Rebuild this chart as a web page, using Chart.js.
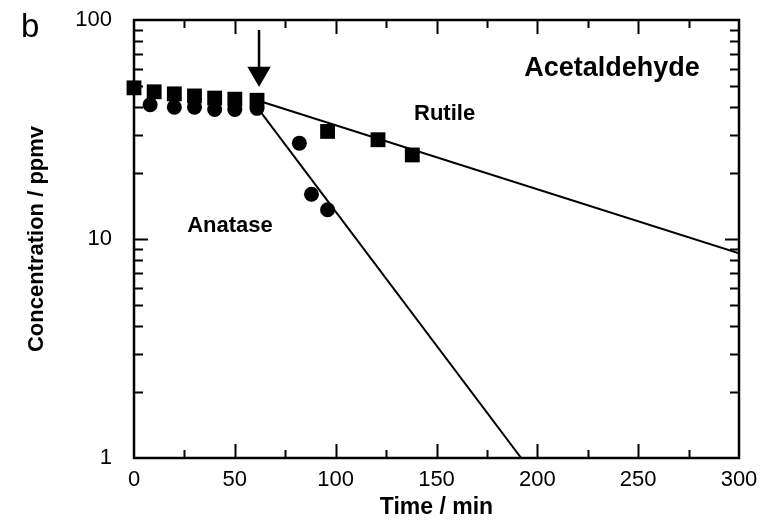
<!DOCTYPE html>
<html>
<head>
<meta charset="utf-8">
<script src="https://cdn.jsdelivr.net/npm/chart.js@4/dist/chart.umd.min.js"></script>
<style>
  html, body { margin: 0; padding: 0; background: #fff; }
  #wrap { width: 774px; height: 521px; }
</style>
</head>
<body>
<div id="wrap"><canvas id="chart" width="774" height="521"></canvas></div>
<script>
// measured points (time in min, concentration in ppmv)
const timeRutile = [0, 10, 20, 30, 40, 50, 61, 96, 121, 138];
const concRutile = [49, 47, 46, 45, 44, 43.5, 43, 31, 28.4, 24.2];

const timeAnatase = [8, 20, 30, 40, 50, 61, 82, 88, 96];
const concAnatase = [41, 40, 40, 39, 39, 39.5, 27.4, 16, 13.6];

// fitted first-order decay lines
const fitRutileX = [61, 300];
const fitRutileY = [43, 8.6];
const fitAnataseX = [61, 192];
const fitAnataseY = [40, 1];

// arrow marking light on
const arrowX = [62, 62];
const arrowY = [90, 57];

// axes
const xTicks = [0, 50, 100, 150, 200, 250, 300];
const yTicks = [1, 10, 100];

const toXY = (xs, ys) => xs.map((x, i) => ({ x: x, y: ys[i] }));

const FONT = "'Liberation Sans', Arial, Helvetica, sans-serif";

// frame, inward ticks and text labels
const framePlugin = {
  id: 'frame',
  afterDraw(chart) {
    const { ctx, chartArea: a, scales } = chart;
    const xs = scales.x, ys = scales.y;
    ctx.save();
    ctx.strokeStyle = '#000';
    ctx.lineWidth = 2;
    ctx.beginPath();
    for (let t = 25; t < 300; t += 25) {
      const px = Math.round(xs.getPixelForValue(t)) + 0.5;
      const len = t % 50 === 0 ? 14 : 8;
      ctx.moveTo(px, a.bottom); ctx.lineTo(px, a.bottom - len);
      ctx.moveTo(px, a.top); ctx.lineTo(px, a.top + len);
    }
    for (let d = 1; d < 100; d *= 10) {
      for (let m = 1; m <= 9; m++) {
        const v = d * m;
        if (v === 1) continue;
        const py = Math.round(ys.getPixelForValue(v)) + 0.5;
        const len = m === 1 ? 14 : 9;
        ctx.moveTo(a.left, py); ctx.lineTo(a.left + len, py);
        ctx.moveTo(a.right, py); ctx.lineTo(a.right - len, py);
      }
    }
    ctx.stroke();
    ctx.lineWidth = 2.5;
    ctx.strokeRect(a.left, a.top, a.right - a.left, a.bottom - a.top);

    ctx.fillStyle = '#000';
    ctx.textBaseline = 'middle';
    ctx.textAlign = 'center';
    ctx.font = 'bold 27px ' + FONT;
    ctx.fillText('Acetaldehyde', xs.getPixelForValue(237), ys.getPixelForValue(60));
    ctx.font = 'bold 22px ' + FONT;
    ctx.fillText('Rutile', xs.getPixelForValue(154), ys.getPixelForValue(37.3));
    ctx.fillText('Anatase', xs.getPixelForValue(47.6), ys.getPixelForValue(11.5));
    ctx.textAlign = 'left';
    ctx.textBaseline = 'alphabetic';
    ctx.font = '33px ' + FONT;
    ctx.fillText('b', 21, 37);
    ctx.restore();
  }
};

new Chart(document.getElementById('chart'), {
  type: 'scatter',
  data: {
    datasets: [
      {
        label: 'Rutile',
        data: toXY(timeRutile, concRutile),
        pointStyle: 'rect',
        pointRadius: 10.5,
        backgroundColor: '#000',
        borderColor: '#000',
        borderWidth: 0,
        clip: false
      },
      {
        label: 'Anatase',
        data: toXY(timeAnatase, concAnatase),
        pointStyle: 'circle',
        pointRadius: 7.5,
        backgroundColor: '#000',
        borderColor: '#000',
        borderWidth: 0,
        clip: false
      },
      {
        type: 'line',
        label: 'Rutile fit',
        data: toXY(fitRutileX, fitRutileY),
        borderColor: '#000',
        borderWidth: 2,
        pointRadius: 0
      },
      {
        type: 'line',
        label: 'Anatase fit',
        data: toXY(fitAnataseX, fitAnataseY),
        borderColor: '#000',
        borderWidth: 2,
        pointRadius: 0
      },
      {
        type: 'line',
        label: 'arrow',
        data: toXY(arrowX, arrowY),
        borderColor: '#000',
        borderWidth: 2.5,
        pointRadius: [0, 11],
        pointStyle: 'triangle',
        rotation: 180,
        backgroundColor: '#000'
      }
    ]
  },
  options: {
    responsive: false,
    animation: false,
    events: [],
    layout: { padding: { left: 0, top: 20, right: 35, bottom: 0 } },
    plugins: { legend: { display: false }, tooltip: { enabled: false } },
    scales: {
      x: {
        type: 'linear',
        min: 0,
        max: 300,
        afterFit: s => { s.height = 63; s.paddingLeft = 0; s.paddingRight = 0; },
        afterBuildTicks: s => { s.ticks = xTicks.map(v => ({ value: v })); },
        grid: { display: false, drawTicks: false },
        border: { display: false },
        ticks: { color: '#000', padding: 9, maxRotation: 0, font: { family: FONT, size: 22 } },
        title: {
          display: true,
          text: 'Time / min',
          color: '#000',
          font: { family: FONT, size: 23, weight: 'bold' },
          padding: { top: 0, bottom: 0 }
        }
      },
      y: {
        type: 'logarithmic',
        min: 1,
        max: 100,
        afterFit: s => { s.width = 134; s.paddingTop = 0; s.paddingBottom = 0; },
        afterBuildTicks: s => { s.ticks = yTicks.map(v => ({ value: v })); },
        grid: { display: false, drawTicks: false },
        border: { display: false },
        ticks: { color: '#000', padding: 22, font: { family: FONT, size: 22 }, callback: v => String(v) },
        title: {
          display: true,
          text: 'Concentration / ppmv',
          color: '#000',
          font: { family: FONT, size: 22, weight: 'bold' },
          padding: { top: 24, bottom: 0 }
        }
      }
    }
  },
  plugins: [framePlugin]
});
</script>
</body>
</html>
